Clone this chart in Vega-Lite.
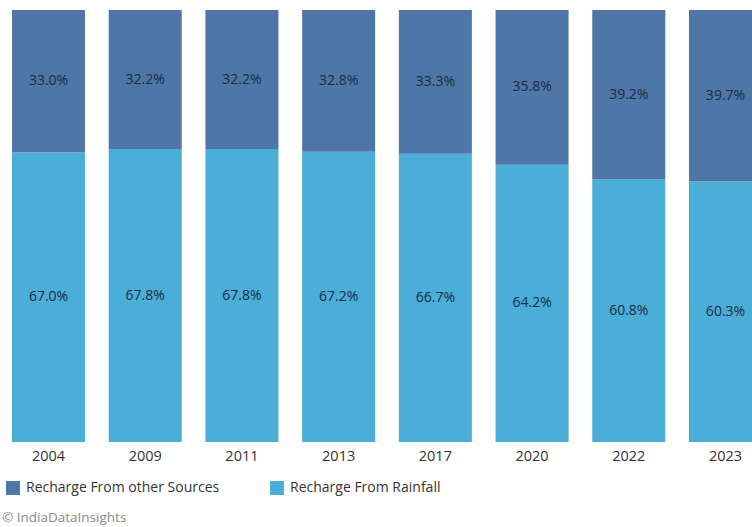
{
  "$schema": "https://vega.github.io/schema/vega-lite/v6.json",
  "width": 774,
  "height": 432,
  "autosize": {"type": "none"},
  "padding": {"left": 0, "top": 10, "right": 0, "bottom": 85},
  "background": "white",
  "config": {"view": {"stroke": null}, "font": "Open Sans"},
  "title": {
    "text": "© IndiaDataInsights",
    "orient": "bottom",
    "anchor": "start",
    "frame": "group",
    "fontSize": 13.5,
    "fontWeight": "normal",
    "color": "#8a8a8a",
    "offset": 16,
    "dx": 2
  },
  "data": {
    "values": [
      {"year": "2004", "source": "Recharge From Rainfall", "value": 67.0, "ord": 0},
      {"year": "2004", "source": "Recharge From other Sources", "value": 33.0, "ord": 1},
      {"year": "2009", "source": "Recharge From Rainfall", "value": 67.8, "ord": 0},
      {"year": "2009", "source": "Recharge From other Sources", "value": 32.2, "ord": 1},
      {"year": "2011", "source": "Recharge From Rainfall", "value": 67.8, "ord": 0},
      {"year": "2011", "source": "Recharge From other Sources", "value": 32.2, "ord": 1},
      {"year": "2013", "source": "Recharge From Rainfall", "value": 67.2, "ord": 0},
      {"year": "2013", "source": "Recharge From other Sources", "value": 32.8, "ord": 1},
      {"year": "2017", "source": "Recharge From Rainfall", "value": 66.7, "ord": 0},
      {"year": "2017", "source": "Recharge From other Sources", "value": 33.3, "ord": 1},
      {"year": "2020", "source": "Recharge From Rainfall", "value": 64.2, "ord": 0},
      {"year": "2020", "source": "Recharge From other Sources", "value": 35.8, "ord": 1},
      {"year": "2022", "source": "Recharge From Rainfall", "value": 60.8, "ord": 0},
      {"year": "2022", "source": "Recharge From other Sources", "value": 39.2, "ord": 1},
      {"year": "2023", "source": "Recharge From Rainfall", "value": 60.3, "ord": 0},
      {"year": "2023", "source": "Recharge From other Sources", "value": 39.7, "ord": 1}
    ]
  },
  "transform": [
    {"stack": "value", "groupby": ["year"], "sort": [{"field": "ord", "order": "ascending"}], "as": ["v0", "v1"]},
    {"calculate": "(datum.v0 + datum.v1) / 2", "as": "mid"},
    {"calculate": "format(datum.value, '.1f') + '%'", "as": "label"}
  ],
  "encoding": {
    "x": {
      "field": "year",
      "type": "ordinal",
      "title": null,
      "scale": {"paddingInner": 0.245, "paddingOuter": 0.124},
      "axis": {"labelAngle": 0, "ticks": false, "domain": false, "labelFontSize": 14.5, "labelColor": "#333333", "labelPadding": 7, "labelFont": "Open Sans"}
    }
  },
  "layer": [
    {
      "mark": {"type": "bar"},
      "encoding": {
        "y": {"field": "v0", "type": "quantitative", "scale": {"domain": [0, 100]}, "axis": null},
        "y2": {"field": "v1"},
        "color": {
          "field": "source",
          "type": "nominal",
          "scale": {"domain": ["Recharge From other Sources", "Recharge From Rainfall"], "range": ["#4e76a6", "#4aaed9"]},
          "legend": {
            "title": null,
            "orient": "none",
            "legendX": 6,
            "legendY": 471,
            "direction": "horizontal",
            "symbolType": "square",
            "symbolSize": 196,
            "symbolStrokeWidth": 0,
            "labelFontSize": 14,
            "labelColor": "#333333",
            "labelFont": "Open Sans",
            "labelOffset": 6,
            "labelLimit": 400,
            "columnPadding": 50
          }
        }
      }
    },
    {
      "mark": {"type": "text", "fontSize": 14, "color": "#1c2b45", "font": "Open Sans"},
      "encoding": {
        "y": {"field": "mid", "type": "quantitative", "scale": {"domain": [0, 100]}},
        "text": {"field": "label", "type": "nominal"}
      }
    }
  ]
}
